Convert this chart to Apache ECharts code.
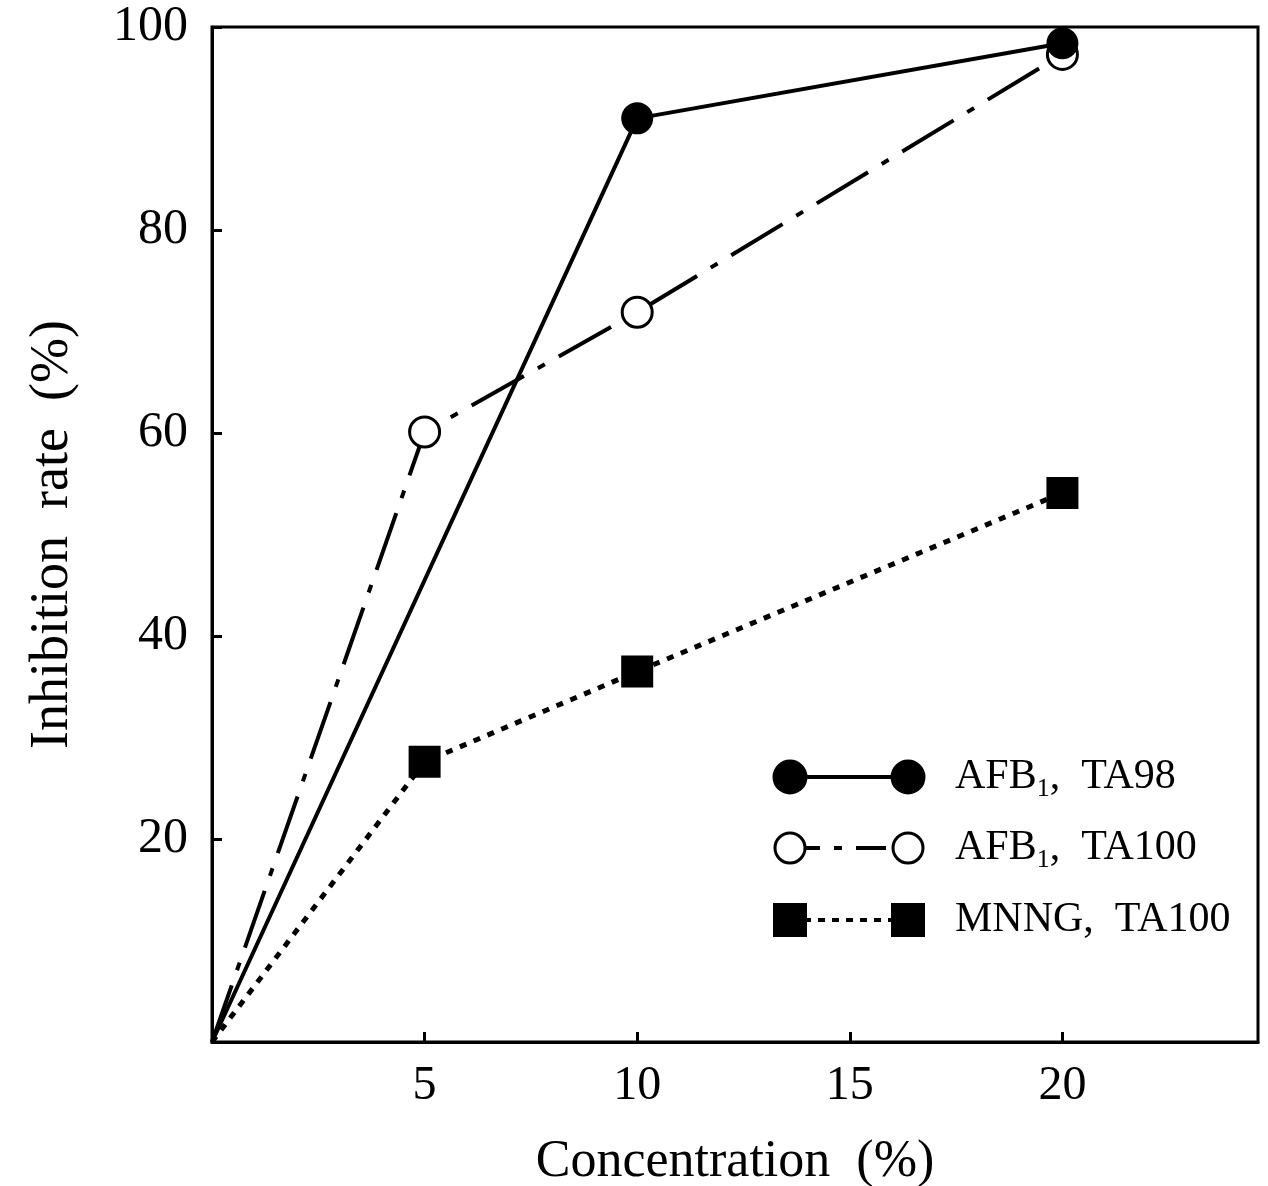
<!DOCTYPE html>
<html>
<head>
<meta charset="utf-8">
<script src="https://cdn.jsdelivr.net/npm/echarts@6/dist/echarts.min.js"></script>
<style>
  html, body { margin: 0; padding: 0; background: #fff; }
  #chart { width: 1268px; height: 1186px; }
</style>
</head>
<body>
<div id="chart"></div>
<script>
// concentration (%) and inhibition rate (%)
var concAll = [0, 5, 10, 20];
var afbTA98 = [0, null, 91.0, 98.4];
var afbTA100 = [0, 60.1, 71.9, 97.3];
var mnngTA100 = [0, 27.6, 36.5, 54.1];
var xTicks = [5, 10, 15, 20];
var yTicks = [20, 40, 60, 80, 100];
var legendNames = ['AFB1, TA98', 'AFB1, TA100', 'MNNG, TA100'];

var FONT = '"Liberation Serif", "DejaVu Serif", serif';

function pairs(vals) {
  var out = [];
  vals.forEach(function (v, i) {
    if (v === null) return;
    var item = { value: [concAll[i], v] };
    if (concAll[i] === 0) item.symbol = 'none';
    out.push(item);
  });
  return out;
}

var chart = echarts.init(document.getElementById('chart'));

// legend drawn by hand: symbol - line - symbol, then the label
function legendRow(y, lineType, symbol, filled, label) {
  var items = [];
  items.push({
    type: 'line', shape: { x1: 790, y1: y, x2: 908, y2: y },
    style: { stroke: '#000', lineWidth: 4, lineDash: lineType }
  });
  [790, 908].forEach(function (cx) {
    if (symbol === 'circle') {
      items.push({
        type: 'circle', shape: { cx: cx, cy: y, r: filled ? 16 : 15 },
        style: { fill: filled ? '#000' : '#fff', stroke: '#000', lineWidth: 3 }
      });
    } else {
      items.push({
        type: 'rect', shape: { x: cx - 17, y: y - 17, width: 34, height: 34 },
        style: { fill: '#000' }
      });
    }
  });
  var rich;
  if (label.indexOf('AFB1') === 0) {
    rich = '{a|AFB}{s|1}{a|,  ' + label.split(', ')[1] + '}';
  } else {
    rich = '{a|' + label.replace(', ', ',  ') + '}';
  }
  items.push({
    type: 'text', x: 955, y: y,
    style: {
      text: rich, verticalAlign: 'middle', align: 'left',
      rich: {
        a: { fontFamily: FONT, fontSize: 42, fill: '#000', lineHeight: 50, verticalAlign: 'middle' },
        s: { fontFamily: FONT, fontSize: 26, fill: '#000', lineHeight: 50, verticalAlign: 'bottom' }
      }
    }
  });
  return items;
}

var graphics = []
  .concat(legendRow(777, null, 'circle', true, legendNames[0]))
  .concat(legendRow(848, [30, 14, 8, 14], 'circle', false, legendNames[1]))
  .concat(legendRow(920, [7, 7], 'rect', true, legendNames[2]));

chart.setOption({
  animation: false,
  backgroundColor: '#fff',
  grid: {
    left: 212, right: 10, top: 27, bottom: 144,
    outerBoundsMode: 'none', containLabel: false,
    show: true, borderColor: '#000', borderWidth: 3
  },
  xAxis: {
    type: 'value', min: 0, max: 24.6, interval: 5,
    name: 'Concentration  (%)',
    nameLocation: 'middle', nameGap: 94,
    nameTextStyle: { fontFamily: FONT, fontSize: 52, color: '#000' },
    axisLine: { show: true, onZero: false, lineStyle: { color: '#000', width: 3 } },
    axisTick: { show: true, inside: true, length: 10, lineStyle: { color: '#000', width: 3 } },
    axisLabel: {
      fontFamily: FONT, fontSize: 48, color: '#000', margin: 20,
      showMaxLabel: false,
      formatter: function (v) { return xTicks.indexOf(v) >= 0 ? String(v) : ''; }
    },
    splitLine: { show: false }
  },
  yAxis: {
    type: 'value', min: 0, max: 100, interval: 20,
    name: 'Inhibition  rate  (%)',
    nameLocation: 'middle', nameGap: 132,
    nameTextStyle: { fontFamily: FONT, fontSize: 54, color: '#000' },
    axisLine: { show: true, lineStyle: { color: '#000', width: 3 } },
    axisTick: { show: true, inside: true, length: 10, lineStyle: { color: '#000', width: 3 } },
    axisLabel: {
      fontFamily: FONT, fontSize: 50, color: '#000', margin: 24,
      formatter: function (v) { return yTicks.indexOf(v) >= 0 ? String(v) : ''; }
    },
    splitLine: { show: false }
  },
  series: [
    {
      name: legendNames[0], type: 'line', data: pairs(afbTA98),
      symbol: 'circle', symbolSize: 32, z: 4,
      lineStyle: { color: '#000', width: 4, type: 'solid' },
      itemStyle: { color: '#000', borderColor: '#000', borderWidth: 0 }
    },
    {
      name: legendNames[1], type: 'line', data: pairs(afbTA100),
      symbol: 'circle', symbolSize: 30, z: 3,
      lineStyle: { color: '#000', width: 4, type: [60, 16, 8, 16] },
      itemStyle: { color: '#fff', borderColor: '#000', borderWidth: 3 }
    },
    {
      name: legendNames[2], type: 'line', data: pairs(mnngTA100),
      symbol: 'rect', symbolSize: 32, z: 3,
      lineStyle: { color: '#000', width: 5, type: [7, 8] },
      itemStyle: { color: '#000' }
    }
  ],
  graphic: graphics
});
</script>
</body>
</html>
